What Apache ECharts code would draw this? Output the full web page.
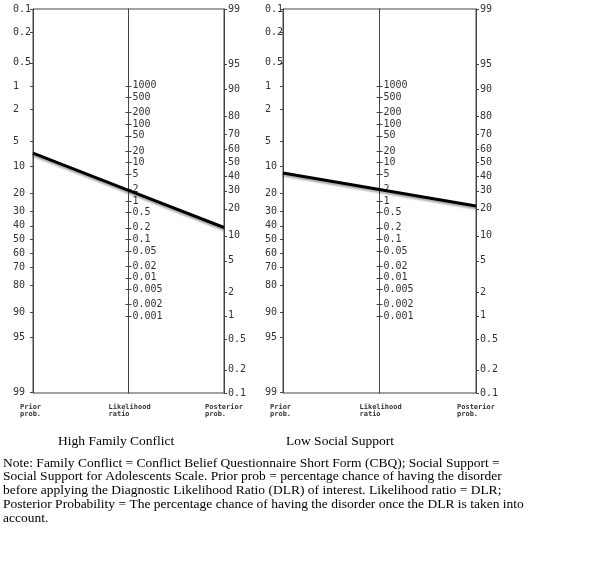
<!DOCTYPE html>
<html>
<head>
<meta charset="utf-8">
<script src="https://cdn.jsdelivr.net/npm/echarts@6/dist/echarts.min.js"></script>
<style>html,body{margin:0;padding:0;background:#fff}#c{width:600px;height:564px}</style>
</head>
<body>
<div id="c"></div>
<script>
// ---- data ----
const panelTitles = ['High Family Conflict', 'Low Social Support'];
const priorTicks = [0.1, 0.2, 0.5, 1, 2, 5, 10, 20, 30, 40, 50, 60, 70, 80, 90, 95, 99];
const posteriorTicks = [99, 95, 90, 80, 70, 60, 50, 40, 30, 20, 10, 5, 2, 1, 0.5, 0.2, 0.1];
const lrTicks = [1000, 500, 200, 100, 50, 20, 10, 5, 2, 1, 0.5, 0.2, 0.1, 0.05, 0.02, 0.01, 0.005, 0.002, 0.001];
const priorProb = [7, 12];          // %
const likelihoodRatio = [1.9, 2.0];
const posteriorProb = [12.5, 21.4]; // %
const columnNames = ['Prior\nprob.', 'Likelihood\nratio', 'Posterior\nprob.'];
const noteText = 'Note: Family Conflict = Conflict Belief Questionnaire Short Form (CBQ); Social Support =\n' +
  'Social Support for Adolescents Scale. Prior prob = percentage chance of having the disorder\n' +
  'before applying the Diagnostic Likelihood Ratio (DLR) of interest. Likelihood ratio = DLR;\n' +
  'Posterior Probability = The percentage chance of having the disorder once the DLR is taken into\n' +
  'account.';

// ---- nomogram scales (decades from top of the axes) ----
function logit(pct) { const p = pct / 100; return Math.log10(p / (1 - p)); }
const uPrior = v => logit(v) + 3;
const uPost = v => 2 - logit(v);
const uLR = v => (5 - Math.log10(v)) / 2;

function labelMap(ticks, fn) {
  const m = {};
  ticks.forEach(t => { m[fn(t).toFixed(6)] = String(t); });
  return v => m[Number(v).toFixed(6)] || '';
}
const fmtPrior = labelMap(priorTicks, uPrior);
const fmtPost = labelMap(posteriorTicks, uPost);
const fmtLR = labelMap(lrTicks, uLR);

const tickFont = { fontFamily: 'DejaVu Sans Mono', fontSize: 10, color: '#333' };
const axisCol = '#444';

const grids = [
  { left: 33, top: 9, width: 191, height: 384 },
  { left: 283, top: 9, width: 193, height: 384 }
];

const xAxes = [], yAxes = [], series = [];
grids.forEach((g, i) => {
  g.show = true; g.borderColor = axisCol; g.borderWidth = 1; g.backgroundColor = 'transparent';
  const base = { fontFamily: 'DejaVu Sans Mono', fontWeight: 'bold', fontSize: 7, lineHeight: 7, color: '#333', align: 'left' };
  xAxes.push({
    gridIndex: i, type: 'value', min: 0, max: 2, interval: 1,
    axisLine: { show: false }, axisTick: { show: false }, splitLine: { show: false },
    axisLabel: {
      margin: 11,
      formatter: v => { const k = Math.round(v); return '{c' + k + '|' + columnNames[k] + '}'; },
      rich: {
        c0: Object.assign({ width: 26 }, base),
        c1: Object.assign({ width: 40 }, base),
        c2: Object.assign({ width: 38 }, base)
      }
    }
  });
  // prior axis
  yAxes.push({
    gridIndex: i, type: 'value', position: 'left', min: 0, max: 5, inverse: true,
    axisLine: { show: true, lineStyle: { color: axisCol } },
    splitLine: { show: false },
    axisTick: { show: true, length: 3, customValues: priorTicks.map(uPrior), lineStyle: { color: axisCol } },
    axisLabel: Object.assign({ customValues: priorTicks.map(uPrior), formatter: fmtPrior, align: 'left', margin: i === 0 ? 20 : 18 }, tickFont)
  });
  // posterior axis
  yAxes.push({
    gridIndex: i, type: 'value', position: 'right', min: 0, max: 5, inverse: true,
    axisLine: { show: true, lineStyle: { color: axisCol } },
    splitLine: { show: false },
    axisTick: { show: true, length: 3, customValues: posteriorTicks.map(uPost), lineStyle: { color: axisCol } },
    axisLabel: Object.assign({ customValues: posteriorTicks.map(uPost), formatter: fmtPost, margin: 4 }, tickFont)
  });
  // likelihood ratio axis (middle)
  const mid = -(g.width / 2);
  yAxes.push({
    gridIndex: i, type: 'value', position: 'left', offset: mid, min: 0, max: 5, inverse: true,
    axisLine: { show: true, lineStyle: { color: axisCol } },
    splitLine: { show: false },
    axisTick: { show: true, inside: true, length: 3, customValues: lrTicks.map(uLR), lineStyle: { color: axisCol } },
    axisLabel: Object.assign({ customValues: lrTicks.map(uLR), formatter: fmtLR, inside: true, margin: 4 }, tickFont)
  });
  yAxes.push({
    gridIndex: i, type: 'value', position: 'left', offset: mid, min: 0, max: 5, inverse: true,
    axisLine: { show: false }, splitLine: { show: false }, axisLabel: { show: false },
    axisTick: { show: true, length: 3, customValues: lrTicks.map(uLR), lineStyle: { color: axisCol } }
  });
  series.push({
    type: 'line', xAxisIndex: i, yAxisIndex: i * 4, symbol: 'none', silent: true, z: 5,
    data: [[0, uPrior(priorProb[i])], [1, uLR(likelihoodRatio[i])], [2, uPost(posteriorProb[i])]],
    lineStyle: { color: '#000', width: 3, shadowColor: 'rgba(0,0,0,0.35)', shadowBlur: 2, shadowOffsetY: 2 }
  });
});

const chart = echarts.init(document.getElementById('c'), null, { renderer: 'canvas' });
chart.setOption({
  animation: false,
  backgroundColor: '#fff',
  grid: grids, xAxis: xAxes, yAxis: yAxes, series: series,
  title: [
    { text: panelTitles[0], left: 58, top: 434, padding: 0, textStyle: { fontFamily: 'Liberation Serif', fontSize: 13.5, fontWeight: 'normal', color: '#000' } },
    { text: panelTitles[1], left: 286, top: 434, padding: 0, textStyle: { fontFamily: 'Liberation Serif', fontSize: 13.5, fontWeight: 'normal', color: '#000' } }
  ],
  graphic: [{
    type: 'text', left: 3, top: 456,
    style: { text: noteText, font: '13.5px "Liberation Serif"', lineHeight: 13.9, fill: '#000' }
  }]
});
</script>
</body>
</html>
